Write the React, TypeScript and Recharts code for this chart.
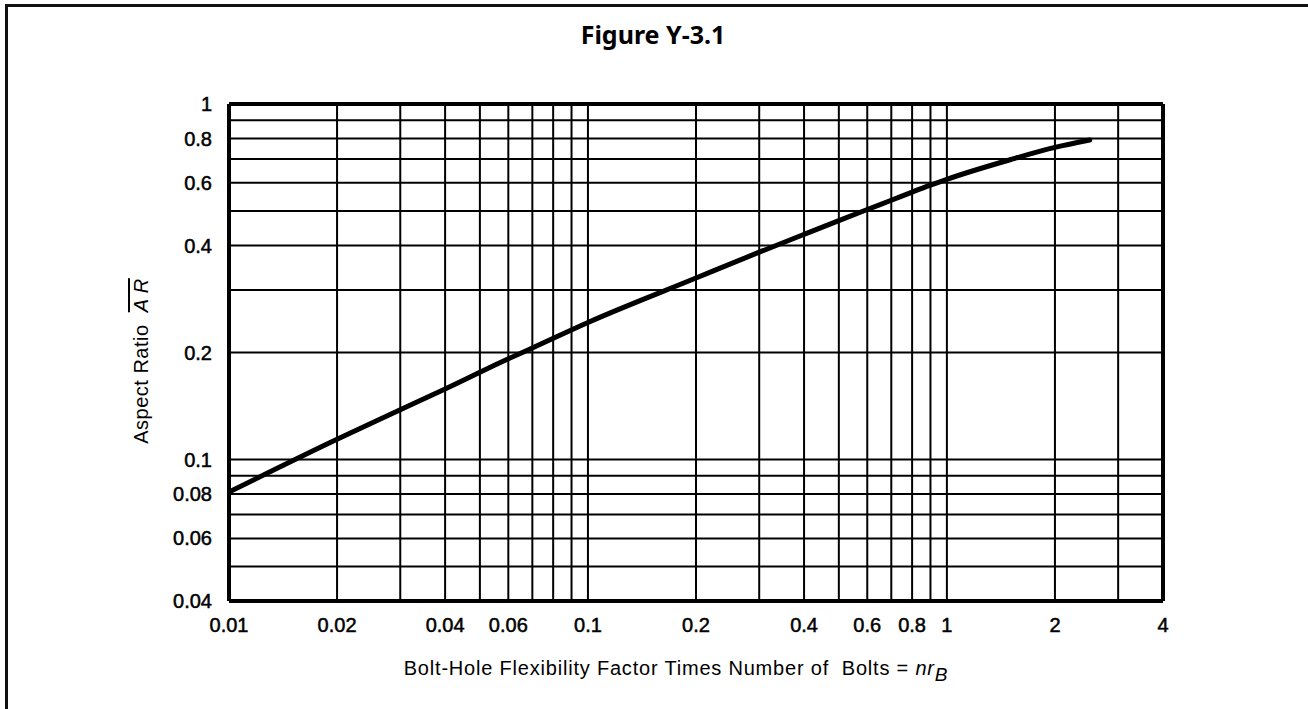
import React from 'react';
import { LineChart, Line, XAxis, YAxis, ReferenceLine } from 'recharts';

// bolt-hole flexibility factor x number of bolts (n*rB) vs aspect ratio
const nrB = [0.01, 0.02, 0.03, 0.04, 0.05, 0.06, 0.07, 0.1, 0.2, 0.3, 0.4, 0.5, 0.6, 0.7, 0.8, 0.9, 1, 1.5, 2, 2.5];
const aspectRatio = [0.081, 0.114, 0.138, 0.158, 0.176, 0.192, 0.206, 0.243, 0.324, 0.383, 0.43, 0.47, 0.505, 0.536, 0.565, 0.591, 0.614, 0.697, 0.755, 0.792];

const xTicks = [0.01, 0.02, 0.04, 0.06, 0.1, 0.2, 0.4, 0.6, 0.8, 1, 2, 4];
const yTicks = [0.04, 0.06, 0.08, 0.1, 0.2, 0.4, 0.6, 0.8, 1];
const xGrid = [0.02, 0.03, 0.04, 0.05, 0.06, 0.07, 0.08, 0.09, 0.1, 0.2, 0.3, 0.4, 0.5, 0.6, 0.7, 0.8, 0.9, 1, 2, 3];
const yGrid = [0.05, 0.06, 0.07, 0.08, 0.09, 0.1, 0.2, 0.3, 0.4, 0.5, 0.6, 0.7, 0.8, 0.9];
const xDomain = [0.01, 4];
const yDomain = [0.04, 1];

const data = nrB.map((x, i) => ({ x, ar: aspectRatio[i] }));

const FONT = '"Liberation Sans", Arial, sans-serif';
const tickStyle = { fontFamily: FONT, fontSize: 20, fill: '#000', stroke: '#000', strokeWidth: 0.5 };

const XLabel = () => (
  <text x={676} y={675} textAnchor="middle" fontFamily={FONT} fontSize={20} letterSpacing={0.8} fill="#000" style={{ whiteSpace: 'pre' }}>
    {'Bolt-Hole Flexibility Factor Times Number of  Bolts = '}
    <tspan fontStyle="italic">nr</tspan>
    <tspan fontStyle="italic" fontSize={19} dy={6}>B</tspan>
  </text>
);

const YLabel = () => (
  <text x={148} y={361} transform="rotate(-90, 148, 361)" textAnchor="middle" fontFamily={FONT} fontSize={20} letterSpacing={0.5} fill="#000" style={{ whiteSpace: 'pre' }}>
    {'Aspect Ratio  '}
    <tspan fontStyle="italic" style={{ textDecoration: 'overline' }}>A R</tspan>
  </text>
);

export default function App() {
  return (
    <div style={{ position: 'fixed', left: 0, top: 0, width: 1308, height: 709, overflow: 'hidden', background: '#fff' }}>
      <div style={{ position: 'absolute', left: 0, width: 1306, top: 17, textAlign: 'center', fontFamily: '"Noto Sans", sans-serif', fontWeight: 700, fontSize: 25, lineHeight: '34px', color: '#000' }}>
        Figure Y-3.1
      </div>
      <div style={{ position: 'absolute', left: 0, top: 0 }}>
        <LineChart width={1308} height={709} data={data} margin={{ top: 104, right: 145, bottom: 0, left: 0 }}>
          <XAxis
            dataKey="x"
            type="number"
            scale="log"
            domain={xDomain}
            ticks={xTicks}
            allowDataOverflow
            axisLine={false}
            tickLine={false}
            tickSize={0}
            tickMargin={17}
            height={108}
            tick={tickStyle}
            interval={0}
            label={<XLabel />}
          />
          <YAxis
            type="number"
            scale="log"
            domain={yDomain}
            ticks={yTicks}
            allowDataOverflow
            axisLine={false}
            tickLine={false}
            tickSize={0}
            tickMargin={17}
            width={229}
            tick={tickStyle}
            interval={0}
            label={<YLabel />}
          />
          {xGrid.map((v) => (
            <ReferenceLine key={'x' + v} x={v} stroke="#000" strokeWidth={2} />
          ))}
          {yGrid.map((v) => (
            <ReferenceLine key={'y' + v} y={v} stroke="#000" strokeWidth={2} />
          ))}
          <ReferenceLine x={xDomain[0]} stroke="#000" strokeWidth={4} />
          <ReferenceLine x={xDomain[1]} stroke="#000" strokeWidth={4} />
          <ReferenceLine y={yDomain[0]} stroke="#000" strokeWidth={4} />
          <ReferenceLine y={yDomain[1]} stroke="#000" strokeWidth={4} />
          <Line
            dataKey="ar"
            type="monotone"
            stroke="#000"
            strokeWidth={5}
            strokeLinecap="round"
            dot={false}
            activeDot={false}
            isAnimationActive={false}
          />
        </LineChart>
      </div>
      <div style={{ position: 'absolute', left: 5, top: 4, width: 1320, height: 720, borderTop: '3px solid #111', borderLeft: '3px solid #111', pointerEvents: 'none' }} />
    </div>
  );
}
